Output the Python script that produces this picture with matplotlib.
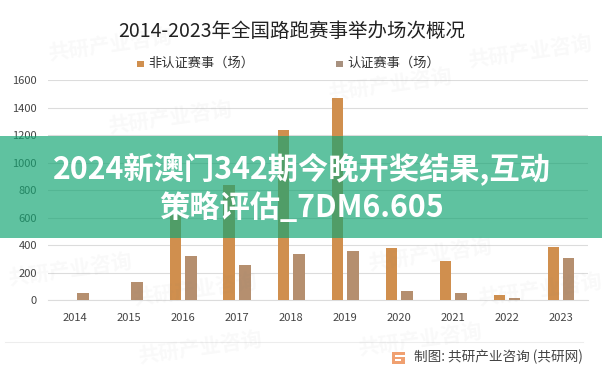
import matplotlib
matplotlib.use('Agg')
import matplotlib.pyplot as plt
import numpy as np
from matplotlib.patches import Rectangle

plt.rcParams['font.family'] = ['Noto Sans CJK SC', 'DejaVu Sans']

years = ['2014','2015','2016','2017','2018','2019','2020','2021','2022','2023']
uncertified = [0, 0, 620, 840, 1240, 1470, 380, 285, 40, 390]
certified = [50, 135, 325, 260, 340, 355, 65, 55, 20, 310]
title = '2014-2023年全国路跑赛事举办场次概况'
series_names = ['非认证赛事（场）', '认证赛事（场）']
banner_lines = ['2024新澳门342期今晚开奖结果,互动', '策略评估_7DM6.605']
source = '制图: 共研产业咨询 (共研网)'
watermark = '共研产业咨询'

W, H = 602, 374
fig = plt.figure(figsize=(W/100, H/100), dpi=100, facecolor='white')
ax = fig.add_axes([48/W, 1-300.3/H, 540/W, 220/H])
x = np.arange(len(years))
ax.bar(x-0.139, uncertified, 0.222, color='#D08F4E', zorder=3)
ax.bar(x+0.139, certified, 0.222, color='#B58F6F', zorder=3)
ax.set_xlim(-0.5, 9.5)
ax.set_ylim(0, 1600)
ax.set_yticks(range(0, 1601, 200))
ax.set_xticks(x, years)
ax.tick_params(length=0, labelsize=8, labelcolor='#444444')
ax.tick_params(axis='x', pad=9)
ax.tick_params(axis='y', pad=8)
ax.grid(axis='y', color='#DCDCDC', lw=0.8, zorder=1)
ax.set_axisbelow(True)
ax.patch.set_alpha(0)
for s in ['top','right','left']:
    ax.spines[s].set_visible(False)
ax.spines['bottom'].set_color('#DCDCDC')

# overlay in pixel coordinates
ov = fig.add_axes([0, 0, 1, 1], zorder=5)
ov.set_xlim(0, W); ov.set_ylim(H, 0); ov.axis('off')

# faint watermarks
for wx, wy in [(110,45),(390,85),(170,118),(530,52),(195,290),(430,255),(420,340),(200,348),(70,270),(540,290)]:
    ov.text(wx, wy, watermark, fontsize=15, fontweight='bold', color='#777777', alpha=0.045,
            rotation=8, ha='center', va='center')

ov.text(292, 31, title, fontsize=14, color='#222222', ha='center', va='center')
ov.add_patch(Rectangle((137, 61), 7, 6, color='#D08F4E', lw=0))
ov.text(148, 63, series_names[0], fontsize=9.5, color='#333333', ha='left', va='center')
ov.add_patch(Rectangle((336, 61), 7, 6, color='#A8917F', lw=0))
ov.text(347, 63, series_names[1], fontsize=9.5, color='#333333', ha='left', va='center')

ov.plot([5, 583], [342, 342], color='#EDEDED', lw=0.8)
ov.add_patch(Rectangle((392, 352), 13, 12, color='#F0A070', lw=0))
ov.add_patch(Rectangle((395, 355), 10, 2, color='white', lw=0))
ov.add_patch(Rectangle((395, 359), 6, 2, color='white', lw=0))
ov.text(583, 357, source, fontsize=9.8, color='#444444', ha='right', va='center')

# banner
ov.add_patch(Rectangle((0, 136), W, 102, color='#14A573', alpha=0.68, lw=0))
for line, ly in zip(banner_lines, [169, 208]):
    ov.text(301.5, ly, line, fontsize=21.8, fontweight='bold', color='white', ha='center', va='center')

fig.savefig('out.png', dpi=100)
